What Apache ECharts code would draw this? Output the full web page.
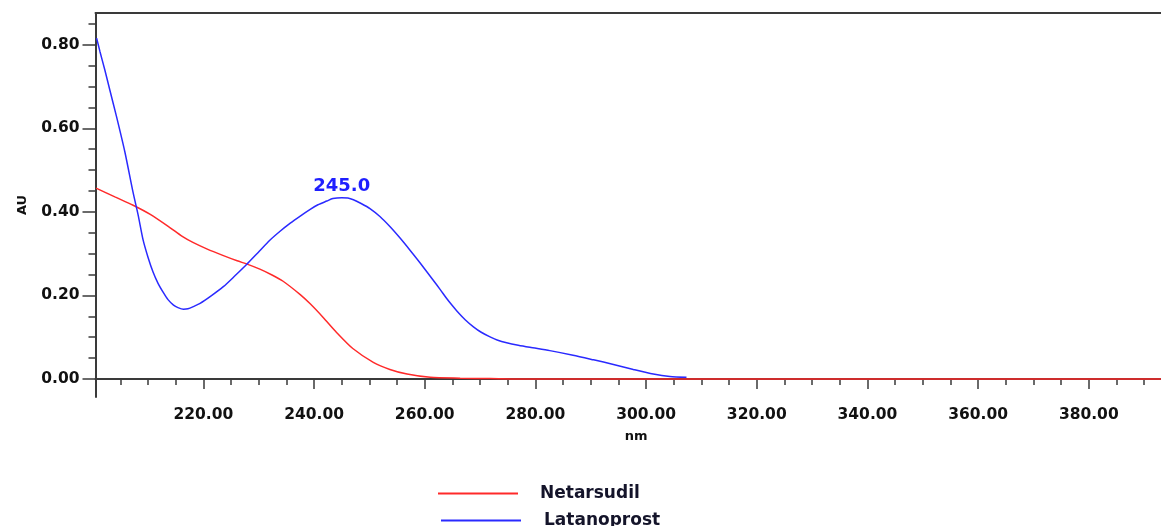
<!DOCTYPE html>
<html>
<head>
<meta charset="utf-8">
<title>UV spectra</title>
<script src="https://cdn.jsdelivr.net/npm/echarts@6/dist/echarts.min.js"></script>
<style>
  html, body { margin: 0; padding: 0; background: #ffffff; }
  #chart { width: 1161px; height: 526px; }
</style>
</head>
<body>
<div id="chart"></div>
<script>
// Wavelength (nm) / absorbance (AU) pairs for each compound
const netarsudilNm = [200.6, 204.0, 207.3, 210.4, 214.0, 216.1, 218.1, 220.7, 223.5, 226.1, 227.9, 230.2, 232.4, 234.4, 237.5, 239.3, 241.6, 244.1, 247.0, 250.7, 253.7, 256.8, 261.0, 266.4, 271.8, 277.2, 320.0, 393.05];
const netarsudilAu = [0.457, 0.436, 0.416, 0.394, 0.362, 0.342, 0.327, 0.311, 0.296, 0.283, 0.275, 0.263, 0.249, 0.234, 0.202, 0.180, 0.148, 0.111, 0.073, 0.040, 0.023, 0.012, 0.004, 0.002, 0.001, 0.000, 0.000, 0.000];

const latanoprostNm = [200.7, 201.3, 202.2, 203.1, 204.3, 205.8, 207.3, 208.2, 209.1, 210.0, 210.9, 211.8, 212.8, 213.6, 214.6, 215.4, 216.4, 217.2, 218.3, 219.4, 221.4, 223.6, 225.7, 227.8, 229.9, 232.0, 233.8, 235.7, 237.5, 239.3, 240.7, 242.3, 243.4, 245.0, 246.1, 247.1, 248.5, 250.1, 251.9, 253.7, 255.5, 257.3, 259.1, 261.5, 262.8, 264.0, 264.9, 265.8, 267.3, 268.8, 270.2, 271.8, 273.2, 274.8, 276.9, 279.0, 282.6, 286.8, 290.5, 294.1, 297.7, 301.3, 304.3, 307.3];
const latanoprostAu = [0.816, 0.784, 0.739, 0.691, 0.628, 0.544, 0.446, 0.393, 0.333, 0.291, 0.256, 0.229, 0.206, 0.190, 0.177, 0.171, 0.167, 0.168, 0.174, 0.181, 0.199, 0.221, 0.247, 0.274, 0.303, 0.332, 0.353, 0.373, 0.390, 0.406, 0.417, 0.426, 0.432, 0.434, 0.433, 0.429, 0.420, 0.408, 0.389, 0.365, 0.338, 0.309, 0.279, 0.237, 0.214, 0.192, 0.177, 0.163, 0.142, 0.125, 0.112, 0.101, 0.093, 0.087, 0.081, 0.076, 0.068, 0.057, 0.046, 0.035, 0.023, 0.012, 0.006, 0.004];

// Absorption maximum of Latanoprost
const peakNm = 245.0;
const peakAu = 0.434;

// Axis tick positions
const xMajorTicks = [220, 240, 260, 280, 300, 320, 340, 360, 380];
const xMinorTicks = [205, 210, 215, 225, 230, 235, 245, 250, 255, 265, 270, 275, 285, 290, 295, 305, 310, 315, 325, 330, 335, 345, 350, 355, 365, 370, 375, 385, 390];
const yMajorTicks = [0, 0.2, 0.4, 0.6, 0.8];
const yMinorTicks = [0.05, 0.1, 0.15, 0.25, 0.3, 0.35, 0.45, 0.5, 0.55, 0.65, 0.7, 0.75, 0.85];

const zip = (xs, ys) => xs.map((x, i) => [x, ys[i]]);

const FONT = "'DejaVu Sans', 'Liberation Sans', sans-serif";
const AXIS_COLOR = '#3a3a3a';
const RED = '#ff2a2a';
const BLUE = '#2a2aff';
const X_MIN = 200.5, X_MAX = 393.05;
const Y_MIN = -0.043, Y_MAX = 0.876;

const legendText = {
  fontFamily: FONT, fontWeight: 'bold', fontSize: 17, color: '#14142a'
};

const chart = echarts.init(document.getElementById('chart'), null, { renderer: 'canvas' });

chart.setOption({
  backgroundColor: '#ffffff',
  animation: false,
  grid: {
    left: 95.5, right: 0, top: 13, bottom: 129,
    containLabel: false,
    outerBoundsMode: 'none'
  },
  // One legend block per compound, stacked vertically under the plot
  legend: [
    {
      left: 438, top: 485, padding: 0,
      icon: 'rect', itemWidth: 80, itemHeight: 2,
      textStyle: Object.assign({ padding: [0, 0, 0, 17] }, legendText),
      data: ['Netarsudil']
    },
    {
      left: 441, top: 512, padding: 0,
      icon: 'rect', itemWidth: 80, itemHeight: 2,
      textStyle: Object.assign({ padding: [0, 0, 0, 18] }, legendText),
      data: ['Latanoprost']
    }
  ],
  xAxis: [
    {
      type: 'value', min: X_MIN, max: X_MAX, position: 'bottom',
      name: 'nm', nameLocation: 'middle', nameGap: 33,
      nameTextStyle: { fontFamily: FONT, fontWeight: 'bold', fontSize: 13, color: '#111', padding: [0, 0, 0, 16] },
      axisLine: { show: true, lineStyle: { color: AXIS_COLOR, width: 2 } },
      axisTick: { show: true, customValues: xMajorTicks, length: 10, lineStyle: { color: AXIS_COLOR, width: 1.5 } },
      axisLabel: {
        show: true, customValues: xMajorTicks, margin: 10,
        formatter: v => v.toFixed(2),
        fontFamily: FONT, fontWeight: 'bold', fontSize: 15.5, color: '#111'
      },
      splitLine: { show: false }
    },
    {
      type: 'value', min: X_MIN, max: X_MAX, position: 'bottom',
      axisLine: { show: false },
      axisTick: { show: true, customValues: xMinorTicks, length: 6, lineStyle: { color: AXIS_COLOR, width: 1.5 } },
      axisLabel: { show: false },
      splitLine: { show: false }
    },
    {
      type: 'value', min: X_MIN, max: X_MAX, position: 'top',
      axisLine: { show: true, lineStyle: { color: AXIS_COLOR, width: 2 } },
      axisTick: { show: false },
      axisLabel: { show: false },
      splitLine: { show: false }
    }
  ],
  yAxis: [
    {
      type: 'value', min: Y_MIN, max: Y_MAX, position: 'left',
      name: 'AU', nameLocation: 'middle', nameGap: 66, nameRotate: 90,
      nameTextStyle: { fontFamily: FONT, fontWeight: 'bold', fontSize: 13, color: '#111' },
      axisLine: { show: true, lineStyle: { color: AXIS_COLOR, width: 2 } },
      axisTick: { show: true, customValues: yMajorTicks, length: 13, lineStyle: { color: AXIS_COLOR, width: 1.5 } },
      axisLabel: {
        show: true, customValues: yMajorTicks, margin: 16,
        formatter: v => v.toFixed(2),
        fontFamily: FONT, fontWeight: 'bold', fontSize: 15.5, color: '#111'
      },
      splitLine: { show: false }
    },
    {
      type: 'value', min: Y_MIN, max: Y_MAX, position: 'left',
      axisLine: { show: false },
      axisTick: { show: true, customValues: yMinorTicks, length: 7, lineStyle: { color: AXIS_COLOR, width: 1.5 } },
      axisLabel: { show: false },
      splitLine: { show: false }
    }
  ],
  series: [
    {
      name: 'Netarsudil',
      type: 'line',
      xAxisIndex: 0, yAxisIndex: 0,
      data: zip(netarsudilNm, netarsudilAu),
      showSymbol: false,
      smooth: 0.25,
      color: RED,
      lineStyle: { color: RED, width: 1.5 },
      z: 3
    },
    {
      name: 'Latanoprost',
      type: 'line',
      xAxisIndex: 0, yAxisIndex: 0,
      data: zip(latanoprostNm, latanoprostAu),
      showSymbol: false,
      smooth: 0.25,
      color: BLUE,
      lineStyle: { color: BLUE, width: 1.5 },
      z: 4,
      markPoint: {
        symbol: 'rect',
        symbolSize: 1,
        itemStyle: { color: 'rgba(0,0,0,0)' },
        label: {
          show: true,
          position: 'top',
          distance: 2,
          formatter: p => p.data.coord[0].toFixed(1),
          fontFamily: FONT, fontWeight: 'bold', fontSize: 18, color: '#1f1fff'
        },
        data: [{ coord: [peakNm, peakAu] }]
      }
    }
  ]
});
</script>
</body>
</html>
